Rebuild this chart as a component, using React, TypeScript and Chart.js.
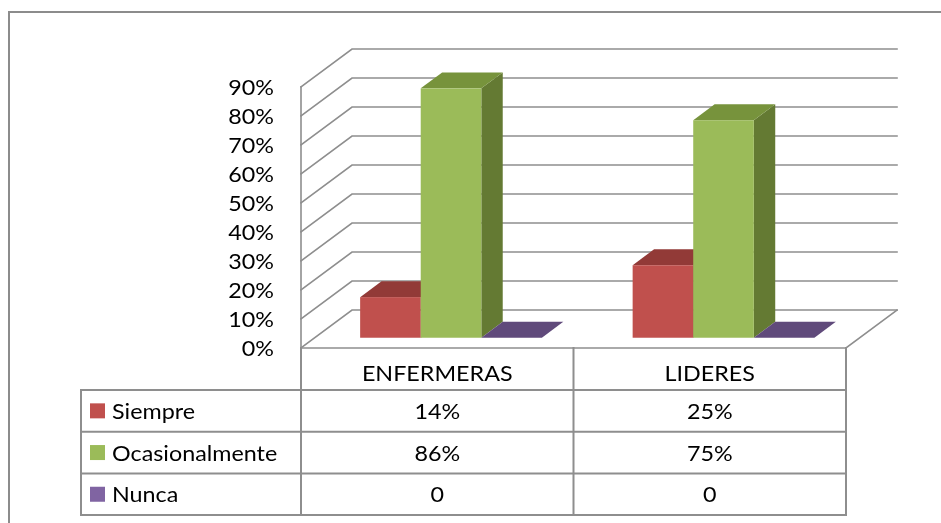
import React, { useEffect, useRef } from "react";
import { Chart, registerables } from "chart.js";

Chart.register(...registerables);

const categories = ["ENFERMERAS", "LIDERES"];
const seriesNames = ["Siempre", "Ocasionalmente", "Nunca"];
const siempre = [14, 25];
const ocasionalmente = [86, 75];
const nunca = [0, 0];
const yTicks = [0, 10, 20, 30, 40, 50, 60, 70, 80, 90];

const frontColors = ["#C0504D", "#9BBB59", "#8064A2"];
const topColors = ["#923A37", "#77933C", "#604A7B"];
const sideColors = ["#7E322F", "#647A33", "#4F3D66"];

const FONT_FAMILY = "Lato, 'Open Sans', sans-serif";
const FONT_SIZE = 22;
const STRETCH = 1.06;
const GRID = "#8E8E8E";

// depth projection
const DX = 51;
const DY = -38;
const BAR_FRONT = 0.27;
const BAR_BACK = 0.69;

const fmt = (v: number) => (v === 0 ? "0" : v + "%");

function drawText(ctx: any, text: string, x: number, y: number, align: string) {
  ctx.save();
  ctx.translate(x, y);
  ctx.scale(STRETCH, 1);
  ctx.textAlign = align;
  ctx.fillText(text, 0, 0);
  ctx.restore();
}

const threeD = {
  id: "threeD",
  beforeDatasetsDraw(chart: any) {
    const ctx = chart.ctx;
    const x = chart.scales.x;
    const y = chart.scales.y;
    const left = chart.chartArea.left;
    const right = chart.chartArea.right;
    const y0 = y.getPixelForValue(0);
    const yTop = y.getPixelForValue(yTicks[yTicks.length - 1]);

    ctx.save();
    ctx.lineWidth = 1.6;
    ctx.strokeStyle = GRID;
    ctx.lineCap = "square";
    // back wall lines and side wall diagonals
    yTicks.forEach((t) => {
      const yy = y.getPixelForValue(t);
      ctx.beginPath();
      ctx.moveTo(left, yy);
      ctx.lineTo(left + DX, yy + DY);
      ctx.lineTo(right + DX, yy + DY);
      ctx.stroke();
    });
    // front-left vertical
    ctx.beginPath();
    ctx.moveTo(left, yTop);
    ctx.lineTo(left, y0);
    // floor front and right edge
    ctx.lineTo(right, y0);
    ctx.lineTo(right + DX, y0 + DY);
    ctx.stroke();

    // bars
    const fx = BAR_FRONT * DX;
    const fy = BAR_FRONT * DY;
    const bx = (BAR_BACK - BAR_FRONT) * DX;
    const by = (BAR_BACK - BAR_FRONT) * DY;
    const n = chart.data.labels.length;
    for (let i = 0; i < n; i++) {
      chart.data.datasets.forEach((ds: any, di: number) => {
        const meta = chart.getDatasetMeta(di);
        const el = meta.data[i];
        const p = el.getProps(["x", "y", "base", "width"], true);
        const x0 = p.x - p.width / 2 + fx;
        const x1 = p.x + p.width / 2 + fx;
        const yt = Math.min(p.y, p.base) + fy;
        const yb = Math.max(p.y, p.base) + fy;
        ctx.fillStyle = sideColors[di];
        ctx.beginPath();
        ctx.moveTo(x1, yt);
        ctx.lineTo(x1 + bx, yt + by);
        ctx.lineTo(x1 + bx, yb + by);
        ctx.lineTo(x1, yb);
        ctx.closePath();
        ctx.fill();
        ctx.fillStyle = topColors[di];
        ctx.beginPath();
        ctx.moveTo(x0, yt);
        ctx.lineTo(x1, yt);
        ctx.lineTo(x1 + bx, yt + by);
        ctx.lineTo(x0 + bx, yt + by);
        ctx.closePath();
        ctx.fill();
        if (yb - yt > 0) {
          ctx.fillStyle = frontColors[di];
          ctx.fillRect(x0, yt, x1 - x0, yb - yt);
        }
      });
    }

    // outer border
    ctx.lineWidth = 2;
    ctx.strokeStyle = "#8C8C8C";
    ctx.beginPath();
    ctx.moveTo(9, chart.height + 5);
    ctx.lineTo(9, 12);
    ctx.lineTo(chart.width + 5, 12);
    ctx.stroke();

    // data table
    const rowH = 41.7;
    const headBottom = y0 + 42;
    const tableLeft = 81;
    const rows = [headBottom, headBottom + rowH, headBottom + 2 * rowH, headBottom + 3 * rowH];
    ctx.strokeStyle = GRID;
    ctx.lineWidth = 2;
    ctx.beginPath();
    rows.forEach((ry) => {
      ctx.moveTo(tableLeft, ry);
      ctx.lineTo(right, ry);
    });
    ctx.moveTo(tableLeft, headBottom);
    ctx.lineTo(tableLeft, rows[3]);
    ctx.moveTo(left, y0);
    ctx.lineTo(left, rows[3]);
    ctx.moveTo(right, y0);
    ctx.lineTo(right, rows[3]);
    for (let i = 1; i < n; i++) {
      const xm = (x.getPixelForValue(i - 1) + x.getPixelForValue(i)) / 2;
      ctx.moveTo(xm, y0);
      ctx.lineTo(xm, rows[3]);
    }
    ctx.stroke();

    ctx.font = `${FONT_SIZE}px ${FONT_FAMILY}`;
    ctx.fillStyle = "#000";
    ctx.textBaseline = "middle";

    // y axis tick labels from the scale
    y.ticks.forEach((tk: any) => {
      drawText(ctx, tk.value + "%", 274, y.getPixelForValue(tk.value) + 1, "right");
    });

    chart.data.labels.forEach((lab: string, i: number) => {
      drawText(ctx, lab, x.getPixelForValue(i), (y0 + headBottom) / 2 + 5, "center");
    });
    chart.data.datasets.forEach((ds: any, di: number) => {
      const cy = rows[di] + rowH / 2;
      ctx.fillStyle = frontColors[di];
      ctx.fillRect(90, cy - 7.5, 15, 15);
      ctx.fillStyle = "#000";
      drawText(ctx, ds.label, 112, cy + 1, "left");
      ds.data.forEach((v: number, i: number) => {
        drawText(ctx, fmt(v), x.getPixelForValue(i), cy + 1, "center");
      });
    });
    ctx.restore();
    return false;
  },
};

export default function App() {
  const ref = useRef<HTMLCanvasElement>(null);
  useEffect(() => {
    if (!ref.current) return;
    const chart = new Chart(ref.current, {
      type: "bar",
      data: {
        labels: categories,
        datasets: [
          { label: seriesNames[0], data: siempre, backgroundColor: frontColors[0] },
          { label: seriesNames[1], data: ocasionalmente, backgroundColor: frontColors[1] },
          { label: seriesNames[2], data: nunca, backgroundColor: frontColors[2] },
        ],
      },
      options: {
        animation: false,
        responsive: false,
        maintainAspectRatio: false,
        devicePixelRatio: 1,
        layout: { padding: { left: 0, top: 87, right: 95, bottom: 175 } },
        datasets: { bar: { categoryPercentage: 0.667, barPercentage: 1 } },
        plugins: { legend: { display: false }, tooltip: { enabled: false }, title: { display: false } },
        scales: {
          x: { display: false },
          y: {
            min: 0,
            max: 90,
            afterFit: (s: any) => {
              s.width = 301;
            },
            grid: { display: false, drawTicks: false },
            border: { display: false },
            ticks: {
              stepSize: 10,
              display: false,
            },
          },
        },
      },
      plugins: [threeD],
    });
    return () => chart.destroy();
  }, []);
  return (
    <div style={{ position: "absolute", left: 0, top: 0, width: 941, height: 523, background: "#fff" }}>
      <canvas ref={ref} width={941} height={523} />
    </div>
  );
}
